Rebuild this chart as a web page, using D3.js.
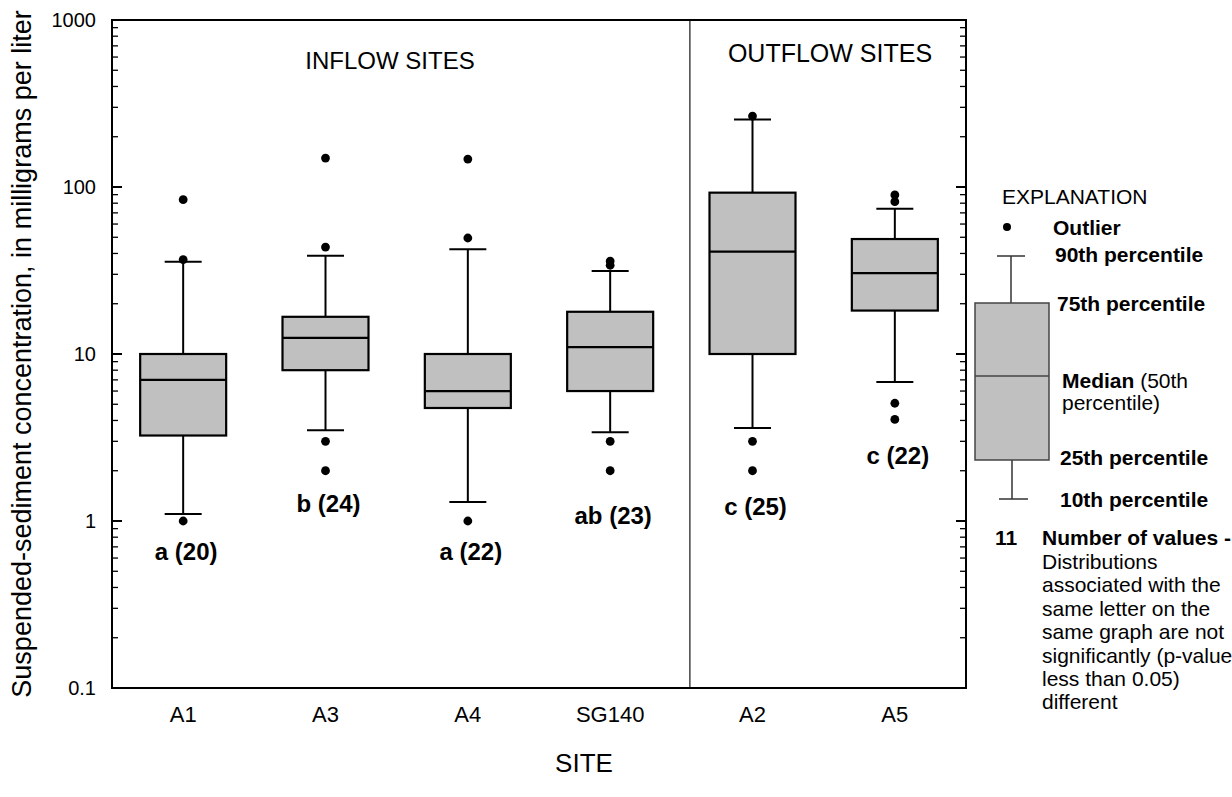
<!DOCTYPE html>
<html>
<head>
<meta charset="utf-8">
<script src="https://cdn.jsdelivr.net/npm/d3@7"></script>
<style>
	body { margin: 0; background: #fff; }
	text { font-family: Arial, "Liberation Sans", sans-serif; fill: #000; }
</style>
</head>
<body>
<div id="graph"></div>
<script>
// site order along the x axis
var sites = ["A1", "A3", "A4", "SG140", "A2", "A5"];
// percentiles (mg/L)
var p10 = [1.1, 3.5, 1.3, 3.4, 3.6, 6.8];
var p25 = [3.25, 8.0, 4.75, 6.0, 10, 18.2];
var p50 = [7.0, 12.5, 6.0, 11.0, 41, 30.5];
var p75 = [10, 16.7, 10, 17.9, 92.5, 48.8];
var p90 = [35.7, 38.8, 42.4, 31.4, 254, 74];
var outliers = [
	[84, 36.7, 1.0],
	[149, 43.7, 3.0, 2.0],
	[147, 49.5, 1.0],
	[36, 34, 3.0, 2.0],
	[266, 3.0, 2.0],
	[89.6, 81.7, 5.07, 4.06]
];
// group letter + number of values, and the concentration where it sits
var groupLabels = ["a (20)", "b (24)", "a (22)", "ab (23)", "c (25)", "c (22)"];
var labelAt = [0.583, 1.13, 0.583, 0.96, 1.09, 2.19];
var yTicks = [0.1, 1, 10, 100, 1000];

var w = 1232, h = 797;
var padL = 112, padR = 966, padT = 20, padB = 688;

var svg = d3.select("#graph").append("svg")
	.attr("width", w)
	.attr("height", h);

var xScale = d3.scaleLinear()
	.domain([-0.5, sites.length - 0.5])
	.range([padL, padR]);
var yScale = d3.scaleLog()
	.domain([0.1, 1000])
	.range([padB, padT]);

var boxW = 86, capW = 37;

// minor + major ticks on left and right borders
var minor = [];
yTicks.slice(0, -1).forEach(function (t) {
	for (var k = 2; k <= 9; k++) minor.push(t * k);
});

var ticks = svg.append("g").attr("id", "ticks");
[padL, padR].forEach(function (x0) {
	var dir = x0 == padL ? 1 : -1;
	ticks.selectAll(null)
		.data(minor)
		.enter().append("line")
		.attr("x1", x0).attr("x2", x0 + dir * 6)
		.attr("y1", function (d) { return yScale(d); })
		.attr("y2", function (d) { return yScale(d); })
		.attr("stroke", "#000").attr("stroke-width", 1.3);
	ticks.selectAll(null)
		.data(yTicks)
		.enter().append("line")
		.attr("x1", x0).attr("x2", x0 + dir * 10)
		.attr("y1", function (d) { return yScale(d); })
		.attr("y2", function (d) { return yScale(d); })
		.attr("stroke", "#000").attr("stroke-width", 2);
});

svg.append("g").selectAll("text")
	.data(yTicks)
	.enter().append("text")
	.attr("x", 96)
	.attr("y", function (d) { return yScale(d) + 7; })
	.attr("text-anchor", "end")
	.style("font-size", "20px")
	.text(function (d) { return d3.format("")(d); });

// divider between inflow and outflow sites
svg.append("line")
	.attr("x1", xScale(3.56)).attr("x2", xScale(3.56))
	.attr("y1", padT).attr("y2", padB)
	.attr("stroke", "#444").attr("stroke-width", 1.5);

// boxes
var boxes = svg.append("g").attr("id", "boxes");
sites.forEach(function (s, i) {
	var cx = xScale(i);
	var g = boxes.append("g");
	g.append("line")
		.attr("x1", cx).attr("x2", cx)
		.attr("y1", yScale(p90[i])).attr("y2", yScale(p75[i]))
		.attr("stroke", "#000").attr("stroke-width", 2);
	g.append("line")
		.attr("x1", cx).attr("x2", cx)
		.attr("y1", yScale(p25[i])).attr("y2", yScale(p10[i]))
		.attr("stroke", "#000").attr("stroke-width", 2);
	[p90[i], p10[i]].forEach(function (v) {
		g.append("line")
			.attr("x1", cx - capW / 2).attr("x2", cx + capW / 2)
			.attr("y1", yScale(v)).attr("y2", yScale(v))
			.attr("stroke", "#000").attr("stroke-width", 2);
	});
	g.append("rect")
		.attr("x", cx - boxW / 2)
		.attr("y", yScale(p75[i]))
		.attr("width", boxW)
		.attr("height", yScale(p25[i]) - yScale(p75[i]))
		.attr("fill", "#c0c0c0")
		.attr("stroke", "#000").attr("stroke-width", 2.2);
	g.append("line")
		.attr("x1", cx - boxW / 2).attr("x2", cx + boxW / 2)
		.attr("y1", yScale(p50[i])).attr("y2", yScale(p50[i]))
		.attr("stroke", "#000").attr("stroke-width", 2.2);
	g.selectAll("circle")
		.data(outliers[i])
		.enter().append("circle")
		.attr("cx", cx)
		.attr("cy", function (d) { return yScale(d); })
		.attr("r", 4.4)
		.attr("fill", "#000");
	g.append("text")
		.attr("x", cx + 3)
		.attr("y", yScale(labelAt[i]))
		.attr("text-anchor", "middle")
		.style("font-size", "24px")
		.style("font-weight", "bold")
		.text(groupLabels[i]);
});

// frame
svg.append("rect")
	.attr("x", padL).attr("y", padT)
	.attr("width", padR - padL).attr("height", padB - padT)
	.attr("fill", "none")
	.attr("stroke", "#000").attr("stroke-width", 2);

// x tick labels
svg.append("g").selectAll("text")
	.data(sites)
	.enter().append("text")
	.attr("x", function (d, i) { return xScale(i); })
	.attr("y", 722)
	.attr("text-anchor", "middle")
	.style("font-size", "22px")
	.text(function (d) { return d; });

svg.append("text")
	.attr("x", 390).attr("y", 69)
	.attr("text-anchor", "middle")
	.style("font-size", "24px")
	.text("INFLOW SITES");
svg.append("text")
	.attr("x", 830).attr("y", 62)
	.attr("text-anchor", "middle")
	.style("font-size", "25px")
	.text("OUTFLOW SITES");

svg.append("text")
	.attr("x", 584).attr("y", 772)
	.attr("text-anchor", "middle")
	.style("font-size", "26px")
	.text("SITE");

svg.append("text")
	.attr("transform", "translate(31," + ((padT + padB) / 2) + ") rotate(-90)")
	.attr("text-anchor", "middle")
	.style("font-size", "27px")
	.text("Suspended-sediment concentration, in milligrams per liter");

// explanation
var lg = svg.append("g").attr("id", "legend");
function lgText(x, y, str, bold) {
	return lg.append("text")
		.attr("x", x).attr("y", y)
		.style("font-size", "21px")
		.style("font-weight", bold ? "bold" : "normal")
		.text(str);
}
lgText(1002, 204, "EXPLANATION", false);
lg.append("circle").attr("cx", 1007).attr("cy", 227).attr("r", 4).attr("fill", "#000");
lgText(1053, 235, "Outlier", true);

lg.append("line").attr("x1", 1011).attr("x2", 1011).attr("y1", 256).attr("y2", 303)
	.attr("stroke", "#333").attr("stroke-width", 1.5);
lg.append("line").attr("x1", 997).attr("x2", 1025).attr("y1", 256).attr("y2", 256)
	.attr("stroke", "#333").attr("stroke-width", 1.5);
lg.append("line").attr("x1", 1012).attr("x2", 1012).attr("y1", 460).attr("y2", 499)
	.attr("stroke", "#333").attr("stroke-width", 1.5);
lg.append("line").attr("x1", 999).attr("x2", 1028).attr("y1", 499).attr("y2", 499)
	.attr("stroke", "#333").attr("stroke-width", 1.5);
lg.append("rect").attr("x", 975).attr("y", 303).attr("width", 74).attr("height", 157)
	.attr("fill", "#c0c0c0").attr("stroke", "#444").attr("stroke-width", 1.5);
lg.append("line").attr("x1", 975).attr("x2", 1049).attr("y1", 376).attr("y2", 376)
	.attr("stroke", "#444").attr("stroke-width", 1.5);

lgText(1055, 262, "90th percentile", true);
lgText(1057, 311, "75th percentile", true);
var med = lgText(1062, 388, "Median", true);
med.append("tspan").style("font-weight", "normal").text(" (50th");
lgText(1062, 410, "percentile)", false);
lgText(1060, 465, "25th percentile", true);
lgText(1060, 507, "10th percentile", true);
lgText(995, 545, "11", true);
lgText(1042, 545, "Number of values -", true);
["Distributions", "associated with the", "same letter on the", "same graph are not",
	"significantly (p-value", "less than 0.05)", "different"].forEach(function (s, i) {
	lgText(1042, 569 + i * 23.4, s, false);
});
</script>
</body>
</html>
